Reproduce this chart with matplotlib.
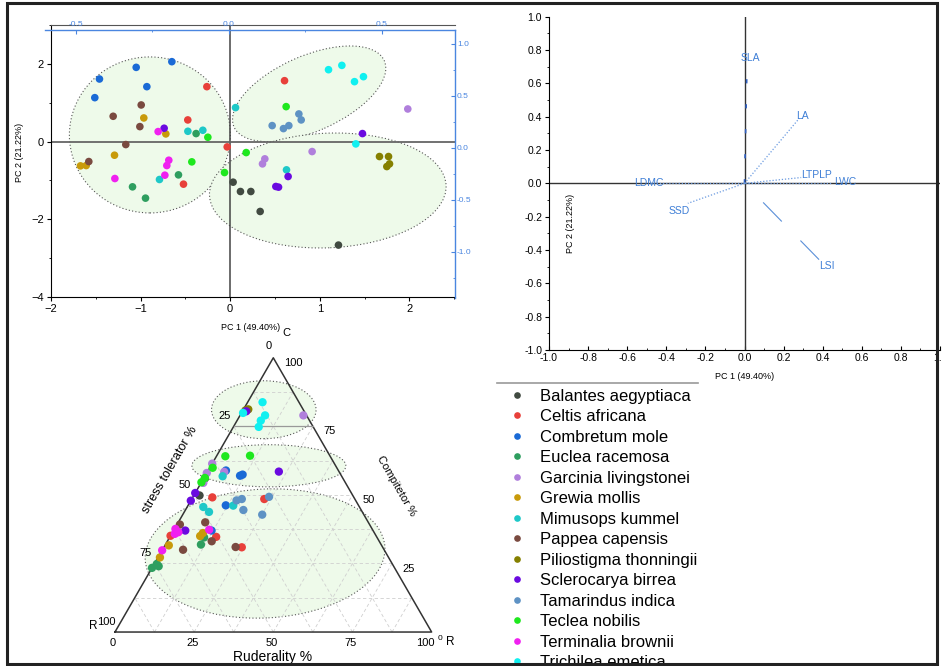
import matplotlib
matplotlib.use("Agg")
import matplotlib.pyplot as plt
from matplotlib.patches import Ellipse, Rectangle
from matplotlib.lines import Line2D
from matplotlib import transforms
from matplotlib.ticker import MultipleLocator, FormatStrFormatter
import numpy as np

plt.rcParams['font.family'] = ['Liberation Sans', 'DejaVu Sans']

species = ["Balantes aegyptiaca", "Celtis africana", "Combretum mole", "Euclea racemosa",
           "Garcinia livingstonei", "Grewia mollis", "Mimusops kummel", "Pappea capensis",
           "Piliostigma thonningii", "Sclerocarya birrea", "Tamarindus indica", "Teclea nobilis",
           "Terminalia brownii", "Trichilea emetica"]
colors = ["#414a41", "#e8403a", "#1a6ad6", "#2e9e5f", "#b07fdc", "#c89a0a", "#1ec8c8",
          "#7a4a40", "#858000", "#6a0ae0", "#5e92c4", "#1ee81e", "#f020f0", "#10f0f0"]

# PCA scores per species
pc1 = [[0.033, 0.115, 0.231, 0.335, 1.209],
       [-0.260, -0.473, -0.521, -0.033, 0.607],
       [-0.651, -1.049, -1.459, -1.511, -0.930],
       [-0.380, -0.577, -1.090, -0.945],
       [1.983, 0.915, 0.387, 0.361],
       [-0.964, -0.718, -1.291, -1.671, -1.607],
       [-0.472, -0.305, -0.789, 0.060, 0.629],
       [-0.993, -1.306, -1.008, -1.165, -1.578],
       [1.667, 1.768, 1.749, 1.779],
       [-0.737, 1.477, 0.647, 0.510, 0.540],
       [0.469, 0.595, 0.655, 0.767, 0.793],
       [-0.249, -0.428, -0.063, 0.179, 0.625],
       [-0.804, -0.685, -0.707, -0.729, -1.287],
       [1.098, 1.247, 1.388, 1.488, 1.403]]
pc2 = [[-1.045, -1.285, -1.285, -1.799, -2.664],
       [1.413, 0.557, -1.096, -0.137, 1.567],
       [2.056, 1.910, 1.610, 1.130, 1.413],
       [0.206, -0.857, -1.165, -1.456],
       [0.839, -0.257, -0.445, -0.574],
       [0.608, 0.197, -0.351, -0.625, -0.617],
       [0.265, 0.291, -0.976, 0.874, -0.728],
       [0.942, 0.651, 0.385, -0.077, -0.514],
       [-0.385, -0.385, -0.643, -0.574],
       [0.343, 0.206, -0.899, -1.156, -1.173],
       [0.411, 0.334, 0.411, 0.711, 0.557],
       [0.111, -0.522, -0.797, -0.283, 0.899],
       [0.257, -0.480, -0.617, -0.865, -0.951],
       [1.850, 1.961, 1.542, 1.670, -0.060]]

# CSR strategy (% competitor C, % ruderal R; stress tolerator S = 100 - C - R)
csr_c = [[56.0, 49.8],
         [49.1, 48.5, 34.7, 35.1, 30.9],
         [57.0, 57.4, 58.9, 46.2, 37.0],
         [34.5, 31.9, 24.8, 23.4, 24.0],
         [79.0, 61.4, 58.0, 58.4, 54.4],
         [36.1, 35.0, 31.6, 27.2],
         [56.8, 46.1, 45.6, 43.8],
         [40.0, 39.2, 33.1, 30.0, 31.0],
         [80.8, 81.2],
         [80.5, 58.5, 50.7, 47.9, 37.0],
         [48.0, 48.5, 49.3, 44.5, 42.8],
         [64.1, 64.3, 59.9, 56.2, 54.6],
         [37.6, 36.4, 37.3, 29.8, 35.8],
         [83.8, 79.0, 77.1, 74.8, 79.9]]
csr_r = [[0.4, 1.8],
         [6.2, 22.9, 14.6, 0.0, 24.6],
         [11.0, 11.6, 5.6, 11.9, 12.0],
         [10.9, 11.2, 0.8, 0.0, 1.8],
         [20.0, 0.0, 0.0, 5.3, 0.7],
         [9.7, 9.4, 1.2, 0.6],
         [5.6, 14.3, 5.1, 7.8],
         [8.5, 0.9, 14.0, 6.5, 22.6],
         [0.8, 1.5],
         [1.2, 22.5, 0.0, 0.0, 3.7],
         [14.4, 15.8, 24.0, 18.3, 25.1],
         [2.8, 10.5, 0.9, 0.3, 0.0],
         [0.3, 1.8, 11.1, 0.0, 1.0],
         [4.7, 7.9, 7.5, 8.0, 0.5]]

# trait loadings
traits = ["SLA", "LA", "LTPLP", "LWC", "LDMC", "SSD", "LSI"]
load_pc1 = [0.012, 0.28, 0.29, 0.45, -0.49, -0.29, 0.40]
load_pc2 = [0.66, 0.39, 0.035, 0.0, 0.0, -0.12, -0.48]

# group ellipses on the score plot: centre (scores), semi-axes (inches), angle
grp_cx = [-0.896, 0.882, 1.090]
grp_cy = [0.171, 1.229, -1.259]
grp_a = [0.805, 0.821, 1.184]
grp_b = [0.780, 0.377, 0.573]
grp_ang = [0, 23.8, 2.5]

# group ellipses on the ternary plot (triangle units)
tri_ex = [47.0, 48.6, 47.4]
tri_ey = [70.2, 52.5, 24.8]
tri_w = [33.0, 48.6, 75.8]
tri_h = [18.3, 13.3, 40.7]
tri_ang = [0, 0, 3]

W, H = 942, 666
fig = plt.figure(figsize=(W / 100, H / 100), dpi=100)


def px_box(l, t, r, b):
    return [l / W, 1 - b / H, (r - l) / W, (b - t) / H]


fill_c = "#eefaea"
edge_c = "#555555"

# ---------------- score plot ----------------
ax1 = fig.add_axes(px_box(51, 25, 455, 297))
ax1.set_xlim(-2, 2.51)
ax1.set_ylim(-4, 3.0)
ax1.spines['right'].set_visible(False)
ax1.spines['top'].set_color('#555555')
ax1.xaxis.set_major_locator(MultipleLocator(1))
ax1.xaxis.set_minor_locator(MultipleLocator(0.5))
ax1.yaxis.set_major_locator(MultipleLocator(2))
ax1.yaxis.set_minor_locator(MultipleLocator(1))
ax1.tick_params(which='both', direction='out', labelsize=8, pad=2)
ax1.tick_params(which='major', length=3)
ax1.tick_params(which='minor', length=1.5)
ax1.tick_params(axis='x', which='both', top=False)
ax1.set_xlabel("PC 1 (49.40%)", fontsize=6.5)
ax1.xaxis.set_label_coords(0.495, -0.095)
ax1.set_ylabel("PC 2 (21.22%)", fontsize=6.5)
ax1.yaxis.set_label_coords(-0.067, 0.533)
ax1.axvline(0, color='#444444', lw=1.1, zorder=1.5)
ax1.axhline(0, color='#666666', lw=1.3, zorder=1.5)

for cx, cy, a, b, ang in zip(grp_cx, grp_cy, grp_a, grp_b, grp_ang):
    tr = fig.dpi_scale_trans + transforms.ScaledTranslation(cx, cy, ax1.transData)
    ax1.add_patch(Ellipse((0, 0), 2 * a, 2 * b, angle=ang, transform=tr,
                          facecolor=fill_c, edgecolor=edge_c, ls=(0, (1, 2)),
                          lw=0.8, zorder=1))

for xs, ys, c in zip(pc1, pc2, colors):
    ax1.scatter(xs, ys, s=30, color=c, edgecolors='none', zorder=3)

# blue loading axes on the score plot
ax1b = fig.add_axes(px_box(45, 30, 455, 298), facecolor='none')
ax1b.set_xlim(-0.601, 0.739)
ax1b.set_ylim(-1.445, 1.132)
for sp in ['left', 'bottom']:
    ax1b.spines[sp].set_visible(False)
for sp in ['top', 'right']:
    ax1b.spines[sp].set_color('#4a86e0')
    ax1b.spines[sp].set_linewidth(1.0)
ax1b.xaxis.tick_top()
ax1b.yaxis.tick_right()
ax1b.set_xticks([-0.5, 0.0, 0.5])
ax1b.set_xticks([-0.25, 0.25], minor=True)
ax1b.set_yticks([-1.0, -0.5, 0.0, 0.5, 1.0])
ax1b.set_yticks([-1.25, -0.75, -0.25, 0.25, 0.75], minor=True)
ax1b.xaxis.set_major_formatter(FormatStrFormatter('%.1f'))
ax1b.yaxis.set_major_formatter(FormatStrFormatter('%.1f'))
ax1b.tick_params(which='both', colors='#4a86e0', labelsize=6, direction='in', pad=1.5)
ax1b.tick_params(which='major', length=3)
ax1b.tick_params(which='minor', length=1.5)

# ---------------- loading plot ----------------
ax2 = fig.add_axes(px_box(549, 16.7, 940, 350))
ax2.set_xlim(-1, 1)
ax2.set_ylim(-1, 1)
ax2.spines['right'].set_visible(False)
ax2.spines['top'].set_visible(False)
ax2.xaxis.set_major_locator(MultipleLocator(0.2))
ax2.xaxis.set_minor_locator(MultipleLocator(0.1))
ax2.yaxis.set_major_locator(MultipleLocator(0.2))
ax2.yaxis.set_minor_locator(MultipleLocator(0.1))
ax2.xaxis.set_major_formatter(FormatStrFormatter('%.1f'))
ax2.yaxis.set_major_formatter(FormatStrFormatter('%.1f'))
ax2.tick_params(which='both', labelsize=7.5, pad=2)
ax2.tick_params(axis='x', which='both', direction='in')
ax2.tick_params(axis='y', which='both', direction='out')
ax2.tick_params(which='major', length=3)
ax2.tick_params(which='minor', length=1.5)
ax2.axvline(0, color='#333333', lw=1.0)
ax2.axhline(0, color='#333333', lw=1.0)
ax2.set_xlabel("PC 1 (49.40%)", fontsize=6.5)
ax2.xaxis.set_label_coords(0.501, -0.066)
ax2.set_ylabel("PC 2 (21.22%)", fontsize=6.5)
ax2.yaxis.set_label_coords(0.066, 0.381)

line_style = {"SLA": dict(ls=(0, (2.5, 12.5)), lw=1.2, color='#2f5fc0'),
              "LSI": dict(ls=(24, (24, 24)), lw=0.8, color='#5a8fd8')}
label_off = {"SLA": (0.018, 0.09), "LA": (0.015, 0.015), "LTPLP": (0.08, 0.017),
             "LWC": (0.065, 0.008), "LDMC": (0.0, 0.004), "SSD": (-0.043, -0.046),
             "LSI": (0.023, -0.016)}
for t, lx, ly in zip(traits, load_pc1, load_pc2):
    st = line_style.get(t, dict(ls=(0, (1, 1.5)), lw=0.9, color='#6a9ae0'))
    ax2.plot([0, lx], [0, ly], **st)
    dx, dy = label_off[t]
    ax2.text(lx + dx, ly + dy, t, color='#3f7fd6', fontsize=7.5, ha='center', va='center')

# ---------------- ternary CSR plot ----------------
ax3 = fig.add_axes(px_box(83.3, 331.2, 463.3, 663.7))
ax3.set_xlim(-10, 110)
ax3.set_ylim(-10, 95)
ax3.axis('off')
h = np.sqrt(3) / 2


def tern(c, r):
    c = np.asarray(c, float)
    r = np.asarray(r, float)
    return r + c / 2, c * h


for ex, ey, ew, eh, ea in zip(tri_ex, tri_ey, tri_w, tri_h, tri_ang):
    ax3.add_patch(Ellipse((ex, ey), ew, eh, angle=ea, facecolor=fill_c, edgecolor=edge_c,
                          ls=(0, (1, 2)), lw=0.8, zorder=1))

grid_kw = dict(color='#cfcfcf', lw=0.6, ls=(0, (4, 3)), zorder=1.5)
for v in np.arange(12.5, 100, 12.5):
    # constant C, R and S grid lines
    ax3.plot([v / 2, 100 - v / 2], [v * h, v * h], **grid_kw)
    ax3.plot([v, v + (100 - v) / 2], [0, (100 - v) * h], **grid_kw)
    ax3.plot([100 - v, (100 - v) / 2], [0, (100 - v) * h], **grid_kw)
ax3.plot([75 / 2, 100 - 75 / 2], [75 * h, 75 * h], color='#999999', lw=0.9, zorder=2.5)

ax3.plot([0, 100, 50, 0], [0, 0, 100 * h, 0], color='#333333', lw=1.1, zorder=2)

for cs, rs, c in zip(csr_c, csr_r, colors):
    x, y = tern(cs, rs)
    ax3.scatter(x, y, s=36, color=c, edgecolors='none', zorder=3)

tk = [25, 50, 75, 100]
for s in tk:
    x, y = tern(100 - s, 0)
    ax3.text(x - 2.85, y + 3.15, str(s), fontsize=8, ha='center', va='center')
for c in tk:
    x, y = tern(c, 100 - c)
    ax3.text(x + 3.3, y - 1.6, str(c), fontsize=8, ha='left', va='center')
for r in [0, 25, 50, 75, 100]:
    ax3.text(r - 0.6 - (1.5 if r == 100 else 0), -3.5, str(r), fontsize=8, ha='center', va='center')
ax3.text(48.7, 90.4, "0", fontsize=8, ha='center', va='center')
ax3.text(54.0, 94.5, "C", fontsize=8, ha='center', va='center')
ax3.text(-7.0, 1.8, "R", fontsize=8.5, ha='center', va='center')
ax3.text(102.6, -2.2, "0", fontsize=6, ha='center', va='center')
ax3.text(105.8, -3.2, "R", fontsize=8.5, ha='center', va='center')
ax3.text(49.8, -7.9, "Ruderality %", fontsize=10, ha='center', va='center')
ax3.text(17.4, 51.3, "stress tolerator %", fontsize=9, rotation=60, ha='center', va='center')
ax3.text(88.7, 46.0, "Compitetor %", fontsize=8, rotation=-60, ha='center', va='center')

# ---------------- legend ----------------
handles = [Line2D([], [], ls='', marker='o', markersize=4.8, color=c, markeredgewidth=0)
           for c in colors]
fig.legend(handles, species, loc='upper left', bbox_to_anchor=(508.7 / W, 1 - 388.7 / H),
           frameon=False, fontsize=12, handlelength=1.0, handletextpad=0.875,
           labelspacing=0.33, borderpad=0, borderaxespad=0)
fig.add_artist(Line2D([497 / W, 698 / W], [1 - 383 / H, 1 - 383 / H], color='#999999',
                      lw=1.2, transform=fig.transFigure))

# outer frame
fig.add_artist(Rectangle((7 / W, 2.5 / H), 930 / W, 661 / H, transform=fig.transFigure,
                         fill=False, lw=2.2, edgecolor='#222222', zorder=10))

fig.savefig("out.png", dpi=100)
